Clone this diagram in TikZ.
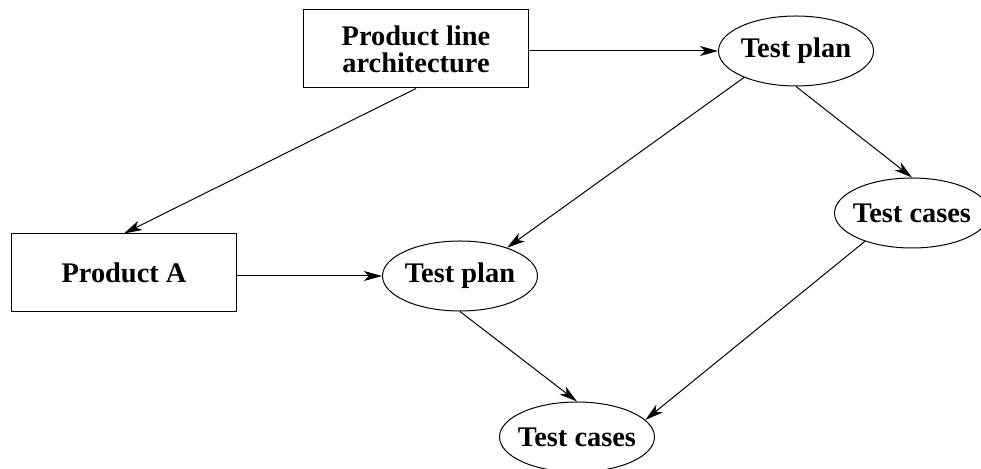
\documentclass[tikz,border=0pt]{standalone}
\usepackage{fontspec}
\setmainfont{Liberation Serif}
\usetikzlibrary{shapes.geometric,arrows.meta}

\tikzset{
  prodbox/.style={draw,rectangle,minimum width=112.5pt,minimum height=39pt,
    inner sep=0pt,align=center,font=\bfseries\fontsize{14.2}{13.5}\selectfont},
  testell/.style={draw,ellipse,minimum width=77.5pt,minimum height=35pt,
    inner xsep=-3pt,inner ysep=0pt,font=\bfseries\fontsize{14.2}{13.5}\selectfont},
  flow/.style={-{Stealth[length=9pt,width=5pt,inset=2.5pt]},line width=0.5pt}
}

\begin{document}
\begin{tikzpicture}[x=0.5pt,y=-0.5pt,line width=0.5pt]
\useasboundingbox (0,0) rectangle (981,469);

\node[prodbox] (pla) at (416,49) {Product line\\architecture};
\node[testell] (tpa) at (796,51) {Test plan};

\node[prodbox] (proda) at (124,273) {Product A};
\node[testell] (tpb) at (460,276) {Test plan};

\node[testell] (tca) at (912,213) {Test cases};
\node[testell] (tcb) at (577,437) {Test cases};

\draw[flow] (pla.east |- tpa) -- (tpa);
\draw[flow] (pla.south) -- (proda.north);
\draw[flow] (proda.east |- tpb) -- (tpb);
\draw[flow] (tpa.207) -- (tpb.31);
\draw[flow] (tpa.south) -- (tca.north);
\draw[flow] (tpb.south) -- (tcb.north);
\draw[flow] (tca.211) -- (tcb.14);
\end{tikzpicture}
\end{document}
